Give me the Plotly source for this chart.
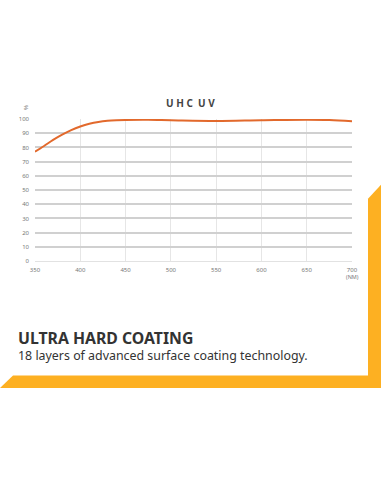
import plotly.graph_objects as go

wavelength = [350, 360, 370, 380, 390, 400, 410, 420, 430, 440, 450, 475, 500, 550, 600, 650, 675, 700]
transmission = [77, 81, 85.3, 89, 92.2, 94.7, 96.6, 97.9, 98.7, 99.1, 99.3, 99.4, 99.1, 98.6, 99.1, 99.5, 99.3, 98.5]
x_ticks = [350, 400, 450, 500, 550, 600, 650, 700]
y_ticks = [0, 10, 20, 30, 40, 50, 60, 70, 80, 90, 100]

W, H = 381, 492
L, R, T, B = 35, 29, 119, 230.5
pw, ph = W - L - R, H - T - B

def px(x):
    return (x - L) / pw

def py(y):
    return (H - B - y) / ph

fig = go.Figure()
fig.add_trace(go.Scatter(x=wavelength, y=transmission, mode="lines",
                         line=dict(color="#E2692C", width=2, shape="spline"),
                         hoverinfo="skip", showlegend=False))

band = "M {},{} L {},{} L {},{} L {},{} Z".format(px(0), py(389), px(13), py(376.5), px(381), py(376.5), px(381), py(389))
bar = "M {},{} L {},{} L {},{} L {},{} Z".format(px(368), py(199), px(381), py(185), px(381), py(389), px(368), py(389))
orange = "#FDB022"
shapes = [
    dict(type="path", xref="paper", yref="paper", path=band, fillcolor=orange, line=dict(width=0), layer="below"),
    dict(type="path", xref="paper", yref="paper", path=bar, fillcolor=orange, line=dict(width=0), layer="below"),
]

annotations = [
    dict(text="<b>U H C  U V</b>", x=px(190), y=py(103), xref="paper", yref="paper", showarrow=False,
         font=dict(family="Noto Sans", size=10, color="#444444"), xanchor="center", yanchor="middle"),
    dict(text="%", x=px(26), y=py(108), xref="paper", yref="paper", showarrow=False, textangle=-90,
         font=dict(family="Noto Sans", size=6, color="#777777"), xanchor="center", yanchor="middle"),
    dict(text="(NM)", x=px(352), y=py(277.5), xref="paper", yref="paper", showarrow=False,
         font=dict(family="Noto Sans", size=5.5, color="#777777"), xanchor="center", yanchor="middle"),
    dict(text="<b>ULTRA HARD COATING</b>", x=px(16), y=py(338.5), xref="paper", yref="paper", showarrow=False,
         font=dict(family="Noto Sans", size=15.8, color="#333333"), xanchor="left", yanchor="middle"),
    dict(text="18 layers of advanced surface coating technology.", x=px(16), y=py(356.5), xref="paper", yref="paper",
         showarrow=False, font=dict(family="Noto Sans", size=12.4, color="#333333"), xanchor="left", yanchor="middle"),
]

fig.update_layout(
    width=W, height=H,
    margin=dict(l=L, r=R, t=T, b=B),
    paper_bgcolor="white", plot_bgcolor="white",
    shapes=shapes, annotations=annotations,
    xaxis=dict(range=[350, 700], tickvals=x_ticks, showgrid=True, gridcolor="#e6e6e6", gridwidth=1,
               zeroline=False, showline=False, ticks="", ticklabelstandoff=4,
               tickfont=dict(family="Noto Sans", size=6, color="#777777")),
    yaxis=dict(range=[0, 100], tickvals=y_ticks, showgrid=True, gridcolor="#d0d0d0", gridwidth=2,
               zeroline=True, zerolinecolor="#e2e2e2", zerolinewidth=1, showline=False, ticks="",
               ticklabelstandoff=5, tickfont=dict(family="Noto Sans", size=6, color="#777777")),
)

fig.write_html("out.html", config={"displayModeBar": False},
               post_script="document.body.style.margin='0';document.body.style.overflow='hidden';")
